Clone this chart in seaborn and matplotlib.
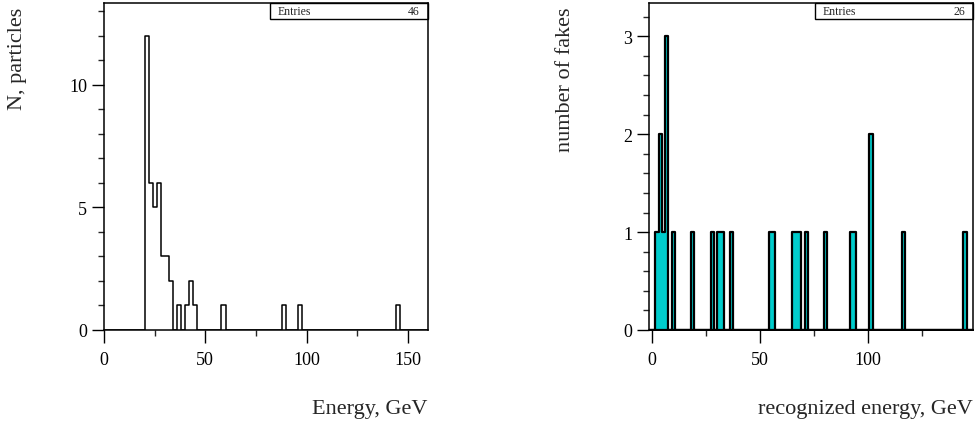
import matplotlib.pyplot as plt
import numpy as np
import pandas as pd
import seaborn as sns
from matplotlib.patches import Rectangle
from matplotlib.ticker import MultipleLocator

# left histogram: 2 GeV bins from 0 to 160, only non-empty bins listed (lower edge)
energy_bin_low = [20, 22, 24, 26, 28, 30, 32, 36, 40, 42, 44, 58, 88, 96, 144]
energy_counts = [12, 6, 5, 6, 3, 3, 2, 1, 1, 2, 1, 1, 1, 1, 1]

# right histogram: 1.5 GeV bins from -1.5 to 148.5
fake_bin_low = [1.5, 3.0, 4.5, 6.0, 9.0, 18.0, 27.0, 30.0, 31.5, 36.0, 54.0, 55.5,
                64.5, 66.0, 67.5, 70.5, 79.5, 91.5, 93.0, 100.5, 115.5, 144.0]
fake_counts = [1, 2, 1, 3, 1, 1, 1, 1, 1, 1, 1, 1, 1, 1, 1, 1, 1, 1, 1, 2, 1, 1]

left_df = pd.DataFrame({"energy": np.array(energy_bin_low) + 1.0, "n": energy_counts})
right_df = pd.DataFrame({"energy": np.array(fake_bin_low) + 0.75, "n": fake_counts})

sns.set_style("white")
plt.rcParams["font.family"] = ["Liberation Serif", "DejaVu Serif"]
plt.rcParams["axes.linewidth"] = 1.1
plt.rcParams["axes.edgecolor"] = "black"

fig = plt.figure(figsize=(9.76, 4.27), dpi=100)
ax1 = fig.add_axes([104 / 976, 96 / 427, 324 / 976, 327 / 427])
ax2 = fig.add_axes([649 / 976, 96 / 427, 324 / 976, 327 / 427])

sns.histplot(
    data=left_df, x="energy", weights="n",
    binwidth=2, binrange=(0, 160),
    element="step", fill=False, color="black", linewidth=1.1,
    ax=ax1,
)
sns.histplot(
    data=right_df, x="energy", weights="n",
    binwidth=1.5, binrange=(-1.5, 148.5),
    element="step", fill=True, alpha=1,
    facecolor="#00cccc", edgecolor="black", linewidth=1.6,
    ax=ax2,
)

ax1.set_xlim(0, 160)
ax1.set_ylim(0, 13.33)
ax1.xaxis.set_major_locator(MultipleLocator(50))
ax1.xaxis.set_minor_locator(MultipleLocator(25))
ax1.yaxis.set_major_locator(MultipleLocator(5))
ax1.yaxis.set_minor_locator(MultipleLocator(1))

ax2.set_xlim(-1.5, 148.5)
ax2.set_ylim(0, 3.34)
ax2.xaxis.set_major_locator(MultipleLocator(50))
ax2.xaxis.set_minor_locator(MultipleLocator(25))
ax2.yaxis.set_major_locator(MultipleLocator(1))
ax2.yaxis.set_minor_locator(MultipleLocator(0.2))

for ax, xlab, ylab, ylab_x, entries in [
    (ax1, "Energy, GeV", "N, particles", -0.238, sum(energy_counts)),
    (ax2, "recognized energy, GeV", "number of fakes", -0.228, sum(fake_counts)),
]:
    for side in ["top", "right", "left", "bottom"]:
        ax.spines[side].set_visible(True)
    ax.tick_params(which="major", length=9, width=1, direction="out", labelsize=13, colors="black")
    ax.tick_params(which="minor", length=4.5, width=1, direction="out")
    ax.tick_params(axis="x", which="major", pad=6)
    ax.tick_params(axis="y", which="major", pad=3)
    ax.tick_params(top=False, right=False, left=True, bottom=True, which="both")

    ax.set_xlabel(xlab, fontsize=16, loc="right")
    ax.xaxis.set_label_coords(1.0, -0.212)
    ax.set_ylabel(ylab, fontsize=16, loc="top")
    ax.yaxis.set_label_coords(ylab_x, 0.99)

    # stats box
    ax.add_patch(Rectangle((0.512, 0.951), 0.488, 0.049, transform=ax.transAxes,
                           fill=False, edgecolor="black", linewidth=1, clip_on=False))
    ax.text(0.536, 0.975, "Entries", transform=ax.transAxes, fontsize=8.5, va="center", ha="left")
    ax.text(0.975, 0.975, str(entries), transform=ax.transAxes, fontsize=8.5, va="center", ha="right")

plt.savefig("out.png", dpi=100)
